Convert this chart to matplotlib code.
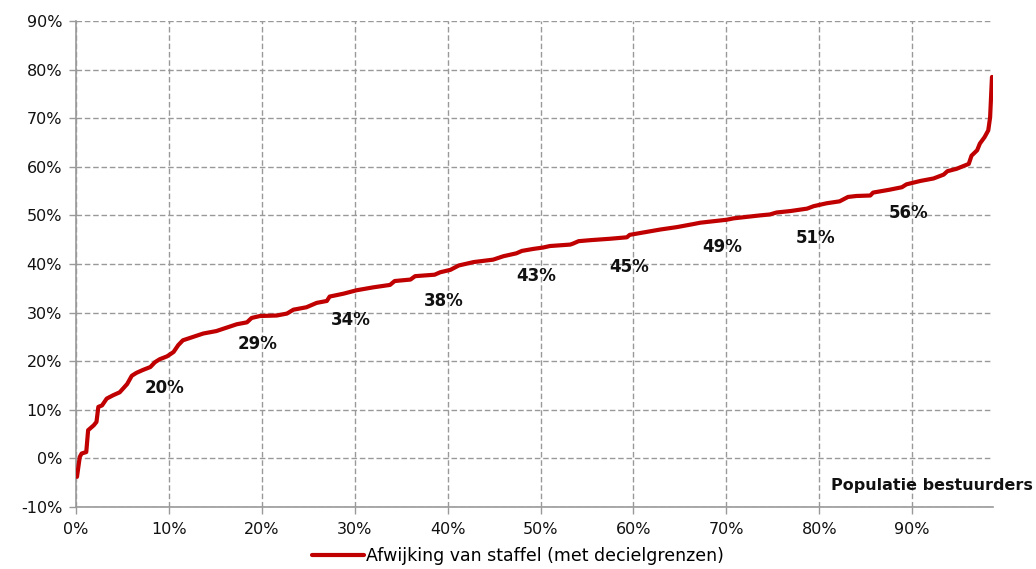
import matplotlib
matplotlib.use("Agg")
import matplotlib.pyplot as plt
from matplotlib.ticker import PercentFormatter, MultipleLocator

plt.rcParams["axes.unicode_minus"] = False

# population share (fraction) vs deviation from scale (fraction)
pop = [0.001, 0.004, 0.006, 0.011, 0.013, 0.019, 0.022, 0.024, 0.028, 0.033,
       0.040, 0.047, 0.055, 0.060, 0.065, 0.072, 0.080, 0.085, 0.090, 0.098,
       0.105, 0.110, 0.115, 0.126, 0.137, 0.151, 0.162, 0.173, 0.184, 0.189,
       0.198, 0.216, 0.227, 0.234, 0.248, 0.259, 0.270, 0.273, 0.288, 0.302,
       0.320, 0.338, 0.343, 0.360, 0.365, 0.386, 0.392, 0.403, 0.412, 0.428,
       0.449, 0.460, 0.474, 0.480, 0.492, 0.503, 0.510, 0.532, 0.535, 0.541,
       0.553, 0.575, 0.593, 0.596, 0.614, 0.629, 0.647, 0.664, 0.672, 0.700,
       0.708, 0.736, 0.747, 0.754, 0.769, 0.787, 0.794, 0.808, 0.822, 0.831,
       0.840, 0.855, 0.858, 0.876, 0.889, 0.894, 0.909, 0.923, 0.934, 0.938,
       0.948, 0.961, 0.964, 0.970, 0.973, 0.978, 0.982, 0.984, 0.986]
afwijking = [-0.038, 0.003, 0.010, 0.013, 0.058, 0.068, 0.075, 0.106, 0.109, 0.123,
             0.130, 0.136, 0.153, 0.170, 0.176, 0.182, 0.188, 0.198, 0.204, 0.210,
             0.219, 0.233, 0.243, 0.250, 0.257, 0.262, 0.269, 0.276, 0.280, 0.289,
             0.293, 0.294, 0.298, 0.306, 0.311, 0.320, 0.324, 0.333, 0.339, 0.346,
             0.352, 0.357, 0.365, 0.368, 0.375, 0.378, 0.383, 0.388, 0.397, 0.404,
             0.409, 0.416, 0.422, 0.427, 0.431, 0.434, 0.437, 0.440, 0.442, 0.447,
             0.449, 0.452, 0.455, 0.460, 0.466, 0.471, 0.476, 0.482, 0.485, 0.491,
             0.494, 0.500, 0.502, 0.506, 0.509, 0.514, 0.519, 0.525, 0.529, 0.538,
             0.540, 0.541, 0.547, 0.553, 0.558, 0.564, 0.571, 0.576, 0.584, 0.591,
             0.596, 0.606, 0.623, 0.634, 0.648, 0.661, 0.675, 0.702, 0.785]

# decile boundaries and their labels
deciles = [0.1, 0.2, 0.3, 0.4, 0.5, 0.6, 0.7, 0.8, 0.9]
decile_values = [0.20, 0.29, 0.34, 0.38, 0.43, 0.45, 0.49, 0.51, 0.56]

RED = "#C00000"
GRID = "#999999"

fig = plt.figure(figsize=(10.36, 5.69), dpi=100)
ax = fig.add_axes([0.0734, 0.109, 0.885, 0.854])

ax.plot(pop, afwijking, color=RED, lw=3.0, solid_capstyle="round",
        solid_joinstyle="round", label="Afwijking van staffel (met decielgrenzen)",
        zorder=3)

for d, v in zip(deciles, decile_values):
    ax.annotate(f"{v*100:.0f}%", (d, v), xytext=(-4, -27), textcoords="offset pixels",
                ha="center", va="center", fontsize=12, fontweight="bold",
                color="#111111")

ax.set_xlim(0, 0.987)
ax.set_ylim(-0.10, 0.90)
ax.yaxis.set_major_locator(MultipleLocator(0.1))
ax.xaxis.set_major_formatter(PercentFormatter(1.0, decimals=0))
ax.yaxis.set_major_formatter(PercentFormatter(1.0, decimals=0))
ax.set_xticks([0.0, 0.1, 0.2, 0.3, 0.4, 0.5, 0.6, 0.7, 0.8, 0.9])

ax.grid(True, ls=(0, (4, 2)), color=GRID, lw=1.0)
ax.set_axisbelow(True)
for side in ("top", "right"):
    ax.spines[side].set_visible(False)
for side in ("left", "bottom"):
    ax.spines[side].set_color("#999999")
    ax.spines[side].set_linewidth(1.2)
ax.tick_params(axis="both", colors="#999999", length=5, width=1,
               labelsize=11.5, labelcolor="#111111")
ax.tick_params(axis="y", pad=5)
ax.tick_params(axis="x", pad=6)

fig.text(0.997, 0.147, "Populatie bestuurders", ha="right", va="center",
         fontsize=11.5, fontweight="bold", color="#111111")

fig.legend(loc="center", bbox_to_anchor=(0.5, 0.023), frameon=False,
           fontsize=12.5, handlelength=3.0, handletextpad=0.1)

fig.savefig("out.png", dpi=100)
